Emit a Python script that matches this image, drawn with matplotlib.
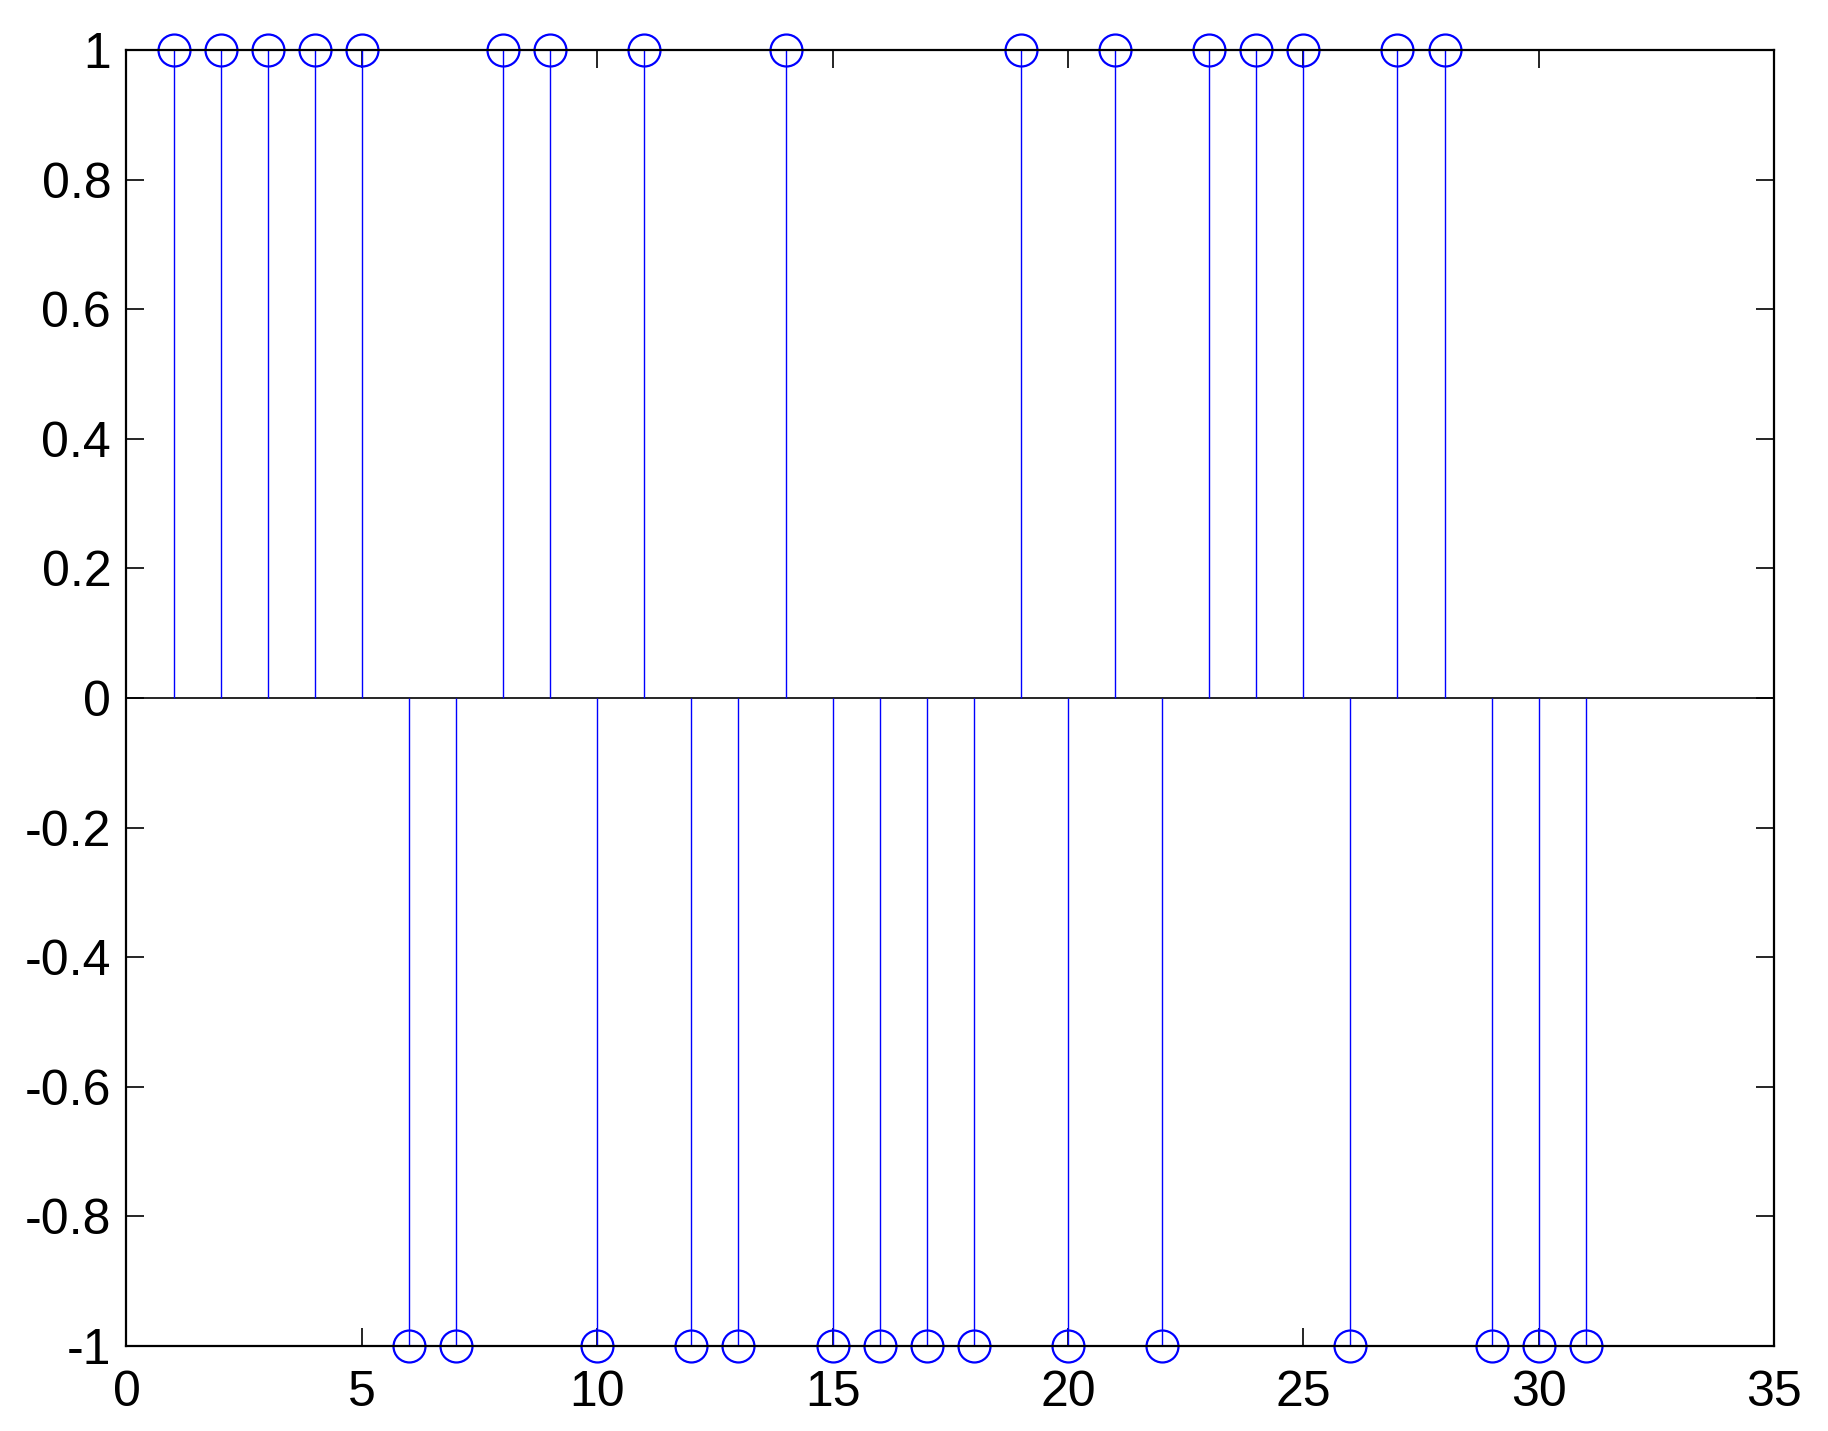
import numpy as np
import matplotlib as mpl
mpl.use('Agg')
import matplotlib.pyplot as plt

# +/-1 sequence, 31 samples
n = np.arange(1, 32)
seq = [1, 1, 1, 1, 1, -1, -1, 1, 1, -1, 1, -1, -1, 1, -1, -1,
       -1, -1, 1, -1, 1, -1, 1, 1, 1, -1, 1, 1, -1, -1, -1]

plt.rcParams['font.family'] = ['Liberation Sans', 'DejaVu Sans']

fig = plt.figure(figsize=(18.28, 14.31), dpi=100)
ax = fig.add_axes([126.5/1828, 1 - 1346/1431, (1774 - 126.5)/1828, (1346 - 50)/1431])

ml, sl, bl = ax.stem(n, seq, linefmt='b-', markerfmt='bo', basefmt='k-')
plt.setp(sl, linewidth=1.0, color='#0000ff')
plt.setp(ml, markersize=23, markerfacecolor='none', markeredgecolor='#0000ff',
         markeredgewidth=1.6, clip_on=False)
plt.setp(bl, visible=False)
ax.axhline(0, color='k', linewidth=1.2, zorder=1)

ax.set_xlim(0, 35)
ax.set_ylim(-1, 1)
ax.set_xticks(np.arange(0, 36, 5))
yt = np.round(np.arange(-1, 1.01, 0.2), 1)
ax.set_yticks(yt)
ax.set_yticklabels(['-1', '-0.8', '-0.6', '-0.4', '-0.2', '0', '0.2', '0.4', '0.6', '0.8', '1'])
ax.tick_params(direction='in', length=13, width=1.2, labelsize=36, top=True, right=True)
ax.tick_params(axis='x', pad=17)
ax.tick_params(axis='y', pad=11)
for s in ax.spines.values():
    s.set_linewidth(1.6)

fig.savefig('out.png', dpi=100)
